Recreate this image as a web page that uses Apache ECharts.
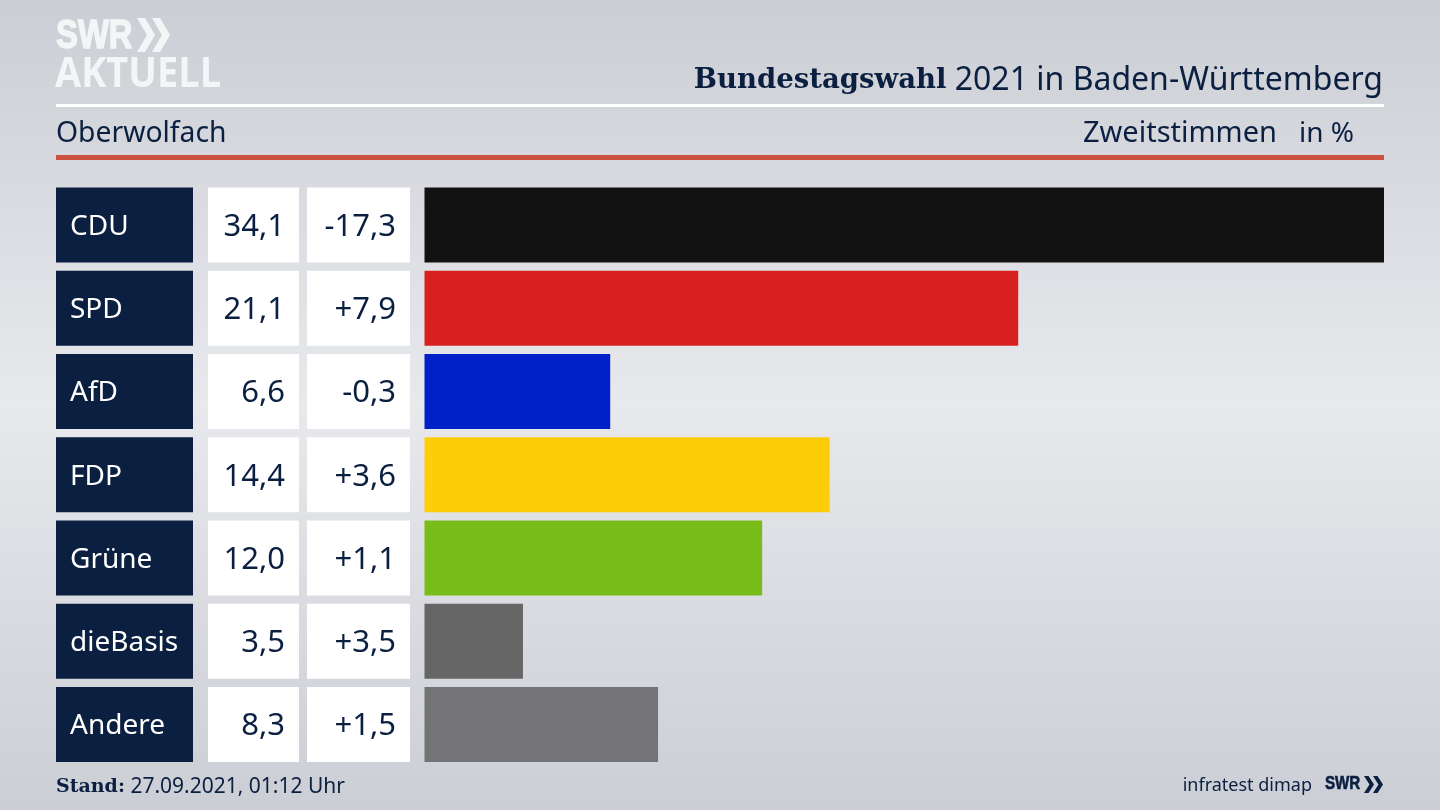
<!DOCTYPE html>
<html>
<head>
<meta charset="utf-8">
<title>Bundestagswahl 2021 Oberwolfach</title>
<style>
html, body { margin: 0; padding: 0; }
#container { width: 1440px; height: 810px; }
</style>
<script src="https://cdn.jsdelivr.net/npm/echarts@6/dist/echarts.min.js"></script>
</head>
<body>
<div id="container"></div>
<script>
var parties = ['CDU', 'SPD', 'AfD', 'FDP', 'Grüne', 'dieBasis', 'Andere'];
var shares = [34.1, 21.1, 6.6, 14.4, 12.0, 3.5, 8.3];
var changes = ['-17,3', '+7,9', '-0,3', '+3,6', '+1,1', '+3,5', '+1,5'];
var colors = ['#121212', '#d9201f', '#0021c8', '#ffcc0a', '#78bc1a', '#666666', '#747476'];

var navy = '#0b1f41';
var font = '"Noto Sans"';
var gridLeft = 424.5;

function comma(v) {
    return v.toFixed(1).replace('.', ',');
}

// table columns are y axes of the same grid, so they stay lined up with the bars
function column(labels, right, width, bg, fg, size, align) {
    return {
        type: 'category',
        inverse: true,
        position: 'left',
        data: labels,
        axisLine: { show: false },
        axisTick: { show: false },
        axisLabel: {
            interval: 0,
            margin: gridLeft - right,
            width: width - 14,
            height: 75,
            align: align,
            padding: align == 'left' ? [0, 0, 0, 14] : [0, 14, 0, 0],
            backgroundColor: bg,
            formatter: '{t|{value}}',
            // rich line height pushes the text a bit below the middle of the box
            rich: { t: { color: fg, fontFamily: font, fontSize: size, lineHeight: 79 } }
        }
    };
}

function chevrons(x, y, h, w, step, color) {
    var res = [];
    for (var i = 0; i < 2; i++) {
        var x0 = x + i * step;
        res.push({
            type: 'polygon',
            shape: { points: [[x0, y], [x0 + w * 0.45, y], [x0 + w, y + h / 2], [x0 + w * 0.45, y + h], [x0, y + h], [x0 + w * 0.55, y + h / 2]] },
            style: { fill: color }
        });
    }
    return res;
}

var myChart = echarts.init(document.getElementById('container'));
myChart.setOption({
    animation: false,
    backgroundColor: {
        type: 'linear', x: 0, y: 0, x2: 0, y2: 1,
        colorStops: [
            { offset: 0, color: '#cbced4' },
            { offset: 0.5, color: '#e8e9ed' },
            { offset: 1, color: '#cbced4' }
        ]
    },
    textStyle: { fontFamily: font },
    title: [
        {
            text: '{b|Bundestagswahl} 2021 in Baden-Württemberg',
            right: 57, top: 65, padding: 0,
            textStyle: {
                color: navy, fontFamily: font, fontSize: 32, fontWeight: 'normal',
                rich: { b: { fontFamily: '"DejaVu Serif"', fontWeight: 'bold', fontSize: 27.5, color: navy } }
            }
        },
        { text: 'Oberwolfach', left: 56, top: 120, padding: 0, textStyle: { color: navy, fontFamily: font, fontSize: 28.3, fontWeight: 'normal' } },
        { text: 'Zweitstimmen', right: 163, top: 119.5, padding: 0, textStyle: { color: navy, fontFamily: font, fontSize: 29, fontWeight: 'normal' } },
        { text: 'in %', right: 86, top: 120, padding: 0, textStyle: { color: navy, fontFamily: font, fontSize: 28, fontWeight: 'normal' } },
        {
            text: '{b|Stand:} 27.09.2021, 01:12 Uhr',
            left: 56, top: 777, padding: 0,
            textStyle: {
                color: navy, fontFamily: font, fontSize: 21, fontWeight: 'normal',
                rich: { b: { fontFamily: '"DejaVu Serif"', fontWeight: 'bold', fontSize: 19, color: navy } }
            }
        },
        { text: 'infratest dimap', right: 128, top: 777, padding: 0, textStyle: { color: navy, fontFamily: font, fontSize: 18, fontWeight: 'normal' } }
    ],
    grid: { left: gridLeft, top: 183.4, width: 959.5, height: 582.75 },
    xAxis: { type: 'value', min: 0, max: 34.1, show: false },
    yAxis: [
        column(parties, 56, 137, navy, '#ffffff', 28, 'left'),
        column(shares.map(comma), 299, 91, '#ffffff', navy, 31, 'right'),
        column(changes, 410, 103, '#ffffff', navy, 31, 'right')
    ],
    series: [{
        type: 'bar',
        yAxisIndex: 0,
        barWidth: 75,
        data: shares.map(function (v, i) {
            return { value: v, itemStyle: { color: colors[i] } };
        })
    }],
    graphic: [
        { type: 'rect', shape: { x: 56, y: 104, width: 1328, height: 3 }, style: { fill: '#ffffff' } },
        { type: 'rect', shape: { x: 56, y: 155, width: 1328, height: 5 }, style: { fill: '#cb5240' } },
        { type: 'text', x: 56, y: 16, scaleX: 0.8, style: { text: 'SWR', fill: '#f4f5f6', stroke: '#f4f5f6', lineWidth: 1.5, font: 'bold 41px "Liberation Sans"' } },
        { type: 'text', x: 55, y: 55, scaleX: 0.925, style: { text: 'AKTUELL', fill: '#f4f5f6', font: 'bold 41px "Open Sans"' } },
        { type: 'text', x: 1325, y: 775, scaleX: 0.84, style: { text: 'SWR', fill: navy, stroke: navy, lineWidth: 0.6, font: 'bold 18px "Liberation Sans"' } }
    ].concat(chevrons(137, 18, 34, 18, 15, '#f4f5f6'), chevrons(1364, 776, 17, 10, 9, navy))
});
</script>
</body>
</html>
